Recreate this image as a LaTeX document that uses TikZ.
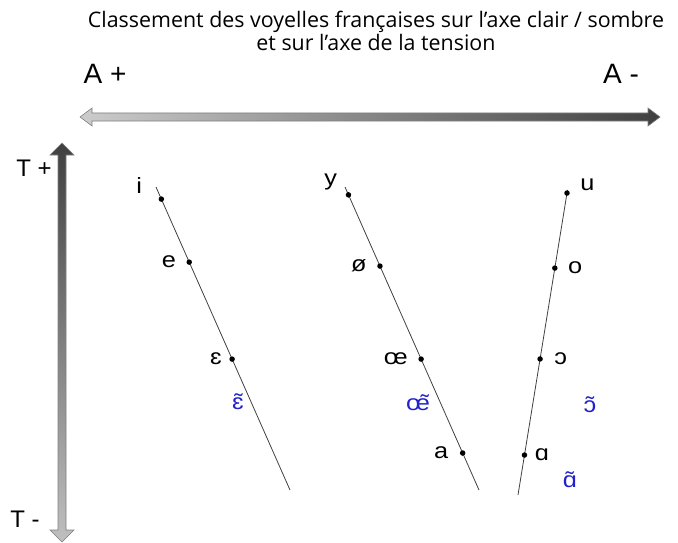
\documentclass[tikz,border=0pt]{standalone}
\usepackage{fontspec}
\setmainfont{Liberation Sans}
\newfontfamily\titlefont{Open Sans}
\newfontfamily\vowelfont[FakeStretch=1.15]{Liberation Sans}
\usepackage{xcolor}
\usetikzlibrary{positioning}
\definecolor{nasalblue}{RGB}{34,34,204}

\begin{document}
\begin{tikzpicture}[
  x=1pt, y=-1pt,
  vowel/.style = {inner sep=0pt, font=\vowelfont\fontsize{22}{24}\selectfont},
  nasal/.style = {vowel, text=nasalblue},
  axlab/.style = {inner sep=0pt, font=\fontsize{28}{30}\selectfont},
  dot/.style   = {circle, fill=black, inner sep=0pt, minimum size=5.5pt},
  slope/.style = {draw=black!75, line width=0.8pt},
  bigarr/.style= {draw=black!50, line width=0.6pt},
]
  \useasboundingbox (0,0) rectangle (678,543);
  % title
  \node[align=center, inner sep=0pt, font=\titlefont\fontsize{21.4}{23}\selectfont]
    (title) at (376,31) {Classement des voyelles françaises sur l’axe clair / sombre\\
    et sur l’axe de la tension};
  \node[axlab] (aplus)  at (105,74) {A +};
  \node[axlab] (amoins) at (621,74) {A -};
  \node[axlab, font=\fontsize{24}{26}\selectfont] (tplus)  at (34,168) {T +};
  \node[axlab, font=\fontsize{24}{26}\selectfont] (tmoins) at (25,519) {T -};
  % axes
  \shade[bigarr, left color=black!20, middle color=black!68, right color=black!75]
    (80,117) -- (92,108) -- (92,113) -- (648,113) -- (648,108) -- (660,117)
    -- (648,126) -- (648,121) -- (92,121) -- (92,126) -- cycle;
  \shade[bigarr, top color=black!75, middle color=black!68, bottom color=black!25]
    (62,143) -- (74,155) -- (66,155) -- (66,530) -- (74,530) -- (62,542)
    -- (50,530) -- (58,530) -- (58,155) -- (50,155) -- cycle;
  % front unrounded
  \coordinate (t1) at (156,187);
  \coordinate (b1) at (290,490);
  \draw[slope] (t1) -- (b1)
    node[dot, pos=0.04]  (dI) {}
    node[dot, pos=0.248] (dE) {}
    node[dot, pos=0.568] (dEps) {};
  \node[vowel, above left=3pt and 17pt of dI] (lI) {i};
  \node[vowel, left=10pt of dE] (lE) {e};
  \node[vowel, left=7pt of dEps] (lEps) {ɛ};
  \node[nasal] (nEps) at (238,402) {ɛ̃};
  % front rounded
  \coordinate (t2) at (345,187);
  \coordinate (b2) at (479,490);
  \draw[slope] (t2) -- (b2)
    node[dot, pos=0.026] (dY) {}
    node[dot, pos=0.261] (dOe) {}
    node[dot, pos=0.568] (dOE) {}
    node[dot, pos=0.878] (dA) {};
  \node[vowel, above left=2pt and 9pt of dY] (lY) {y};
  \node[vowel, left=10pt of dOe] (lOe) {ø};
  \node[vowel, left=10pt of dOE] (lOE) {œ};
  \node[vowel, left=11pt of dA] (lA) {a};
  \node[nasal] (nOE) at (418,403) {œ\llap{˜\kern1pt}};
  % back
  \coordinate (t3) at (567.5,190);
  \coordinate (b3) at (518,495);
  \draw[slope] (t3) -- (b3)
    node[dot, pos=0.01]  (dU) {}
    node[dot, pos=0.256] (dO) {}
    node[dot, pos=0.554] (dOo) {}
    node[dot, pos=0.869] (dAa) {};
  \node[vowel, above right=0pt and 11pt of dU] (lU) {u};
  \node[vowel, right=10pt of dO] (lO) {o};
  \node[vowel, right=11pt of dOo] (lOo) {ɔ};
  \node[vowel, right=7pt of dAa] (lAa) {ɑ};
  \node[nasal] (nOo) at (590,405) {ɔ̃};
  \node[nasal] (nAa) at (570,480) {ɑ̃};
\end{tikzpicture}
\end{document}
